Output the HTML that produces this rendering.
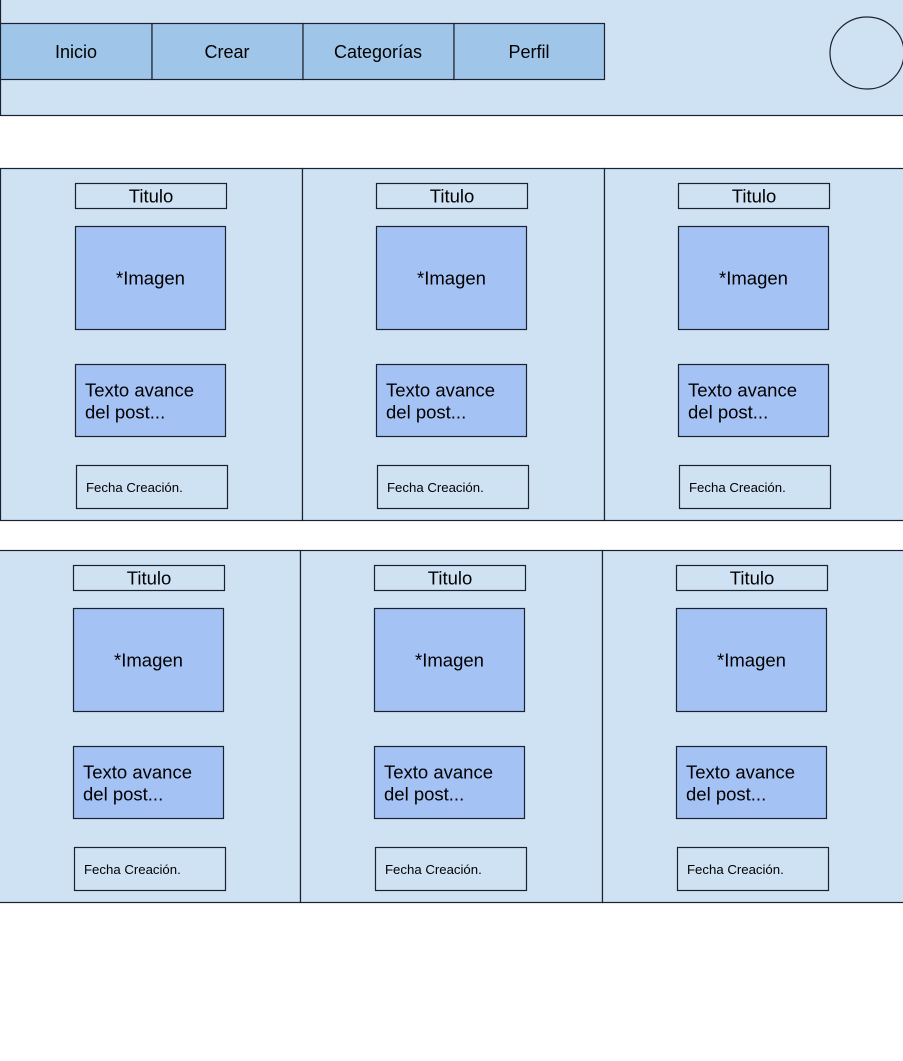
<!DOCTYPE html>
<html><head><meta charset="utf-8"><style>
html,body{margin:0;padding:0;background:#fff;}
svg{display:block;}
text{font-family:"Liberation Sans",Arial,sans-serif;fill:#000;}
</style></head><body>
<svg width="903" height="1061" viewBox="0 0 903 1061" xmlns="http://www.w3.org/2000/svg">
<g stroke="#1a2230" stroke-width="1.2">
<rect x="0.5" y="-1" width="904" height="116.5" fill="#cfe2f3"/>
<rect x="0.5" y="23.5" width="151.5" height="56" fill="#9fc5e8"/>
<rect x="152" y="23.5" width="151" height="56" fill="#9fc5e8"/>
<rect x="303" y="23.5" width="151" height="56" fill="#9fc5e8"/>
<rect x="454" y="23.5" width="150.5" height="56" fill="#9fc5e8"/>
<ellipse cx="867" cy="53" rx="37" ry="36" fill="none"/>
<rect x="0.5" y="168.5" width="302" height="352" fill="#cfe2f3"/>
<rect x="302.5" y="168.5" width="302" height="352" fill="#cfe2f3"/>
<rect x="604.5" y="168.5" width="300" height="352" fill="#cfe2f3"/>
<rect x="-1" y="550.5" width="301.5" height="352" fill="#cfe2f3"/>
<rect x="300.5" y="550.5" width="302" height="352" fill="#cfe2f3"/>
<rect x="602.5" y="550.5" width="302" height="352" fill="#cfe2f3"/>
</g>
<g font-size="18" text-anchor="middle">
<text x="76" y="58">Inicio</text>
<text x="227" y="58">Crear</text>
<text x="378" y="58">Categorías</text>
<text x="529" y="58">Perfil</text>
</g>
<g id="c1">
<g stroke="#1a2230" stroke-width="1.2">
<rect x="75.5" y="183.5" width="151" height="25" fill="#cfe2f3"/>
<rect x="75.5" y="226.5" width="150" height="103" fill="#a4c2f4"/>
<rect x="75.5" y="364.5" width="150" height="72" fill="#a4c2f4"/>
<rect x="76.5" y="465.5" width="151" height="43" fill="#cfe2f3"/>
</g>
<text x="151" y="202.5" font-size="18.5" text-anchor="middle">Titulo</text>
<text x="150.5" y="284.5" font-size="18.5" text-anchor="middle">*Imagen</text>
<text x="85" y="396.5" font-size="18.5">Texto avance</text>
<text x="85" y="418.5" font-size="18.5">del post...</text>
<text x="86" y="492" font-size="13.2">Fecha Creación.</text>
</g>
<use href="#c1" x="301" y="0"/>
<use href="#c1" x="603" y="0"/>
<use href="#c1" x="-2" y="382"/>
<use href="#c1" x="299" y="382"/>
<use href="#c1" x="601" y="382"/>
</svg>
</body></html>
